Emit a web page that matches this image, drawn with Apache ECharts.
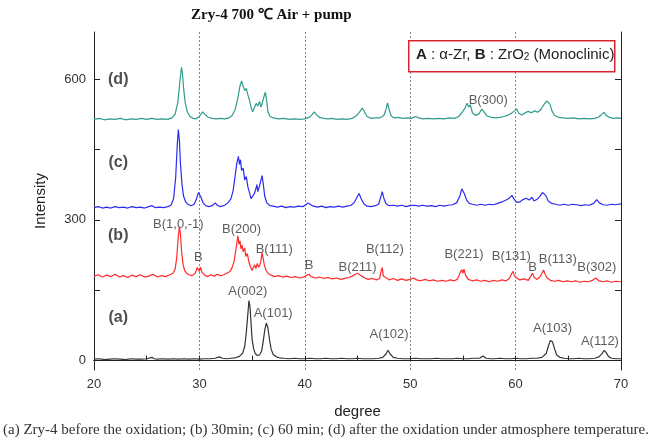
<!DOCTYPE html>
<html>
<head>
<meta charset="utf-8">
<script src="https://cdn.jsdelivr.net/npm/echarts@6/dist/echarts.min.js"></script>
<style>html,body{margin:0;padding:0;background:#fff;}#c{width:652px;height:441px;}</style>
</head>
<body>
<div id="c"></div>
<script>
// ---- data ----
const xTicks = [20, 30, 40, 50, 60, 70];
const yLabelValues = [0, 300, 600];
const yTickValues = [0, 150, 300, 450, 600];

const curveA = [[20,3],[20.5,4],[21,2],[21.5,3],[22,4],[22.5,3],[23,2],[23.5,4],[24,3],[24.5,3],[25,4],[25.5,7],[25.7,4],[26,3],[26.5,4],[27,3],[27.5,4],[28,3],[28.5,4],[29,3],[29.5,4],[30,3],[30.5,4],[31,4],[31.5,5],[31.9,8],[32.2,5],[32.6,4],[33,5],[33.4,6],[33.8,9],[34.1,16],[34.3,30],[34.45,60],[34.6,100],[34.7,128],[34.8,115],[34.9,80],[35.0,45],[35.15,25],[35.3,15],[35.5,11],[35.7,12],[35.9,20],[36.05,40],[36.2,65],[36.35,80],[36.5,70],[36.65,45],[36.8,25],[37.0,13],[37.3,8],[37.6,6],[38,5],[38.5,4],[39,5],[39.5,4],[40,4],[40.5,5],[41,4],[41.5,4],[42,5],[42.5,4],[43,4],[43.5,5],[44,4],[44.5,4],[45,5],[45.5,4],[46,4],[46.5,4],[47,5],[47.4,7],[47.7,14],[47.9,22],[48.1,14],[48.4,7],[48.8,5],[49.3,4],[50,4],[50.5,5],[51,4],[51.5,4],[52,4],[52.5,5],[53,4],[53.5,4],[54,4],[54.5,5],[55,4],[55.5,4],[56,5],[56.6,5],[56.9,10],[57.2,5],[57.6,4],[58,4],[58.5,5],[59,4],[59.5,4],[60,5],[60.5,4],[61,4],[61.5,5],[62,5],[62.5,7],[62.9,15],[63.1,30],[63.3,43],[63.5,40],[63.7,25],[63.9,12],[64.2,7],[64.6,5],[65,4],[65.5,4],[66,5],[66.5,4],[67,4],[67.5,5],[67.9,8],[68.2,15],[68.4,22],[68.6,17],[68.8,9],[69.1,5],[69.5,4],[70,4]];

const curveB = [[20,180],[20.4,183],[20.8,178],[21.2,182],[21.6,179],[22,184],[22.4,178],[22.8,181],[23.2,177],[23.6,182],[24,179],[24.4,183],[24.8,178],[25.2,180],[25.6,184],[26,178],[26.4,181],[26.8,179],[27.2,183],[27.5,186],[27.7,195],[27.85,220],[28.0,265],[28.1,285],[28.2,270],[28.3,235],[28.45,205],[28.6,192],[28.8,186],[29.0,183],[29.3,181],[29.6,186],[29.8,198],[29.9,201],[30.0,190],[30.1,199],[30.25,188],[30.5,182],[30.8,179],[31.1,183],[31.4,180],[31.7,184],[32,181],[32.3,183],[32.6,186],[32.9,190],[33.1,198],[33.3,212],[33.45,235],[33.55,250],[33.65,266],[33.75,248],[33.85,255],[33.95,238],[34.05,246],[34.15,232],[34.3,240],[34.4,222],[34.55,228],[34.7,210],[34.85,200],[35.0,192],[35.1,198],[35.25,204],[35.35,196],[35.5,207],[35.6,199],[35.75,204],[35.85,215],[35.95,230],[36.05,218],[36.15,205],[36.3,193],[36.5,186],[36.8,182],[37.1,179],[37.5,181],[37.9,178],[38.3,180],[38.7,177],[39.1,179],[39.5,176],[39.9,178],[40.2,182],[40.4,184],[40.6,179],[41,176],[41.4,178],[41.8,175],[42.2,177],[42.6,174],[43,176],[43.4,173],[43.8,175],[44.2,177],[44.5,180],[44.8,184],[45.0,186],[45.2,183],[45.4,180],[45.7,176],[46,173],[46.4,175],[46.8,172],[47.1,175],[47.25,192],[47.35,198],[47.45,180],[47.6,176],[48,172],[48.4,175],[48.8,171],[49.2,174],[49.6,171],[50,173],[50.3,176],[50.6,172],[51,170],[51.4,173],[51.8,170],[52.2,172],[52.6,169],[53,171],[53.4,169],[53.8,172],[54.2,170],[54.5,174],[54.75,188],[54.9,194],[55.0,186],[55.1,195],[55.25,182],[55.5,173],[55.9,170],[56.3,172],[56.7,169],[57.1,171],[57.5,168],[57.9,171],[58.3,169],[58.7,172],[59.1,170],[59.4,175],[59.6,184],[59.75,190],[59.9,180],[60.1,176],[60.4,172],[60.8,174],[61.2,171],[61.45,180],[61.6,186],[61.75,178],[62.0,173],[62.3,178],[62.5,186],[62.65,193],[62.8,184],[63.0,176],[63.3,171],[63.7,169],[64.1,171],[64.5,168],[64.9,170],[65.3,168],[65.7,170],[66.1,167],[66.5,169],[66.9,168],[67.3,171],[67.6,176],[67.9,170],[68.3,168],[68.7,170],[69.1,167],[69.5,169],[70,168]];

const curveC = [[20,326],[20.4,328],[20.8,325],[21.2,327],[21.6,325],[22,328],[22.4,326],[22.8,327],[23.2,325],[23.6,328],[24,326],[24.4,327],[24.8,325],[25.2,328],[25.5,330],[25.8,326],[26.2,327],[26.6,326],[27,328],[27.3,331],[27.55,345],[27.75,390],[27.9,460],[28.0,492],[28.1,470],[28.2,420],[28.35,375],[28.5,350],[28.7,338],[28.9,333],[29.2,330],[29.5,333],[29.7,343],[29.9,358],[30.0,360],[30.15,348],[30.35,336],[30.6,330],[30.9,328],[31.2,330],[31.5,336],[31.7,331],[32,328],[32.4,331],[32.7,336],[33,345],[33.2,362],[33.4,395],[33.55,420],[33.7,435],[33.8,418],[33.9,428],[34.0,405],[34.15,410],[34.3,385],[34.45,392],[34.6,370],[34.75,358],[34.9,345],[35.05,343],[35.2,355],[35.35,365],[35.45,375],[35.55,360],[35.7,372],[35.85,385],[35.95,394],[36.05,378],[36.2,350],[36.4,336],[36.7,330],[37.0,329],[37.4,327],[37.8,329],[38.2,326],[38.6,328],[39,327],[39.4,329],[39.8,328],[40.1,332],[40.3,336],[40.5,333],[40.8,329],[41.2,327],[41.6,329],[42,326],[42.4,328],[42.8,327],[43.2,329],[43.6,327],[44,329],[44.4,331],[44.7,337],[44.95,348],[45.15,356],[45.35,345],[45.6,334],[45.9,329],[46.3,328],[46.7,330],[47.0,333],[47.2,348],[47.35,360],[47.5,346],[47.7,334],[48,330],[48.4,331],[48.8,329],[49.2,331],[49.6,328],[50,330],[50.4,331],[50.8,329],[51.2,331],[51.6,329],[52,330],[52.4,328],[52.8,331],[53.2,329],[53.6,331],[54,332],[54.4,336],[54.7,350],[54.9,366],[55.0,368],[55.15,355],[55.35,342],[55.6,335],[55.9,333],[56.3,331],[56.7,333],[57.1,331],[57.5,333],[57.9,332],[58.3,335],[58.7,338],[59.1,342],[59.4,346],[59.65,352],[59.85,344],[60.1,337],[60.4,338],[60.7,343],[61.0,346],[61.3,342],[61.55,348],[61.75,340],[62.0,343],[62.3,350],[62.55,358],[62.7,360],[62.85,352],[63.1,340],[63.4,335],[63.8,333],[64.2,331],[64.6,333],[65,331],[65.4,333],[65.8,332],[66.2,330],[66.6,332],[67,331],[67.4,335],[67.7,343],[67.95,336],[68.3,332],[68.7,331],[69.1,333],[69.5,332],[70,334]];

const curveD = [[20,514],[20.5,516],[21,513],[21.5,515],[22,514],[22.5,516],[23,513],[23.5,515],[24,514],[24.5,516],[25,514],[25.5,516],[26,514],[26.5,515],[27,514],[27.4,517],[27.7,525],[27.95,550],[28.15,595],[28.3,625],[28.4,610],[28.5,580],[28.65,550],[28.85,530],[29.1,520],[29.4,516],[29.7,515],[30.0,520],[30.3,530],[30.5,525],[30.8,519],[31.2,516],[31.6,515],[32,516],[32.4,515],[32.8,517],[33.1,522],[33.4,535],[33.65,560],[33.85,585],[34.0,596],[34.15,585],[34.3,575],[34.45,580],[34.6,566],[34.75,555],[34.9,540],[35.05,530],[35.2,538],[35.4,548],[35.55,542],[35.7,552],[35.85,540],[35.95,548],[36.1,560],[36.25,572],[36.35,560],[36.5,530],[36.7,520],[37,517],[37.5,515],[38,516],[38.5,514],[39,515],[39.5,514],[40,515],[40.4,518],[40.7,524],[40.9,530],[41.1,524],[41.4,518],[41.8,516],[42.2,515],[42.6,516],[43,514],[43.5,515],[44,514],[44.5,516],[44.9,522],[45.2,530],[45.45,538],[45.65,530],[45.9,520],[46.3,516],[46.7,517],[47.1,517],[47.5,522],[47.7,535],[47.85,549],[48.0,535],[48.2,521],[48.5,517],[48.9,518],[49.3,516],[49.7,517],[50.1,516],[50.5,520],[50.8,517],[51.2,515],[51.7,516],[52.2,515],[52.7,516],[53.2,515],[53.7,517],[54.2,516],[54.6,520],[54.9,528],[55.2,538],[55.4,548],[55.55,540],[55.7,545],[55.9,528],[56.2,522],[56.5,525],[56.8,536],[57.0,530],[57.3,521],[57.7,518],[58.1,517],[58.5,518],[58.9,520],[59.3,523],[59.6,527],[59.9,532],[60.1,536],[60.3,527],[60.6,523],[60.9,528],[61.2,531],[61.5,528],[61.8,532],[62.1,529],[62.4,535],[62.7,546],[62.95,553],[63.1,555],[63.25,547],[63.45,532],[63.7,522],[64.1,518],[64.5,517],[65,516],[65.5,517],[66,515],[66.5,516],[67,515],[67.5,516],[67.9,519],[68.2,525],[68.4,529],[68.6,522],[68.9,518],[69.3,516],[69.7,517],[70,516]];

// curve tags: [x, y, text]
const curveTags = [[22.3, 598, '(d)'], [22.3, 421, '(c)'], [22.3, 266, '(b)'], [22.3, 91, '(a)']];
// peak annotations: [x, y, text]
const peakTags = [
  [57.4, 555, 'B(300)'],
  [28.0, 291, 'B(1,0,-1)'], [29.9, 219, 'B'], [34.0, 279, 'B(200)'], [37.1, 236, 'B(111)'],
  [40.4, 202, 'B'], [45.0, 198, 'B(211)'], [47.6, 236, 'B(112)'], [55.1, 226, 'B(221)'],
  [59.6, 221, 'B(131)'], [61.6, 198, 'B'], [64.0, 215, 'B(113)'], [67.7, 198, 'B(302)'],
  [34.6, 147, 'A(002)'], [37.0, 100, 'A(101)'], [48.0, 55, 'A(102)'], [63.5, 68, 'A(103)'], [68.0, 40, 'A(112)']
];

// ---- chart ----
const chart = echarts.init(document.getElementById('c'), null, {renderer: 'canvas'});
const sans = 'Liberation Sans';
function lineSeries(data, color) {
  return {type: 'line', data: data, showSymbol: false, symbol: 'none', animation: false,
    lineStyle: {color: color, width: 1.2}, z: 3};
}
function tagSeries(tags, style) {
  return {type: 'scatter', symbolSize: 0, animation: false, silent: true, z: 5,
    data: tags.map(t => ({value: [t[0], t[1]], label: {formatter: t[2]}})),
    label: Object.assign({show: true, position: 'inside'}, style)};
}
chart.setOption({
  animation: false,
  title: {text: 'Zry-4 700 ℃ Air + pump', left: 186, top: 3,
    textStyle: {fontFamily: 'Liberation Serif', fontWeight: 'bold', fontSize: 15, color: '#111'}},
  grid: {left: 94, right: 31, top: 32, bottom: 71},
  xAxis: [{
    type: 'value', min: 20, max: 70, interval: 10,
    name: 'degree', nameLocation: 'middle', nameGap: 34,
    nameTextStyle: {fontFamily: sans, fontSize: 15, color: '#222'},
    axisLine: {lineStyle: {color: '#222', width: 1}},
    axisTick: {show: true, inside: true, length: 5, lineStyle: {color: '#222'}},
    minorTick: {show: true, splitNumber: 2, length: 5, lineStyle: {color: '#222'}},
    axisLabel: {fontFamily: sans, fontSize: 13, color: '#333', margin: 8},
    splitLine: {show: true, lineStyle: {color: '#888', type: [2, 2], width: 1}}
  }, {
    type: 'value', min: 20, max: 70, position: 'top',
    axisLine: {show: true, lineStyle: {color: '#222', width: 1}},
    axisTick: {show: false}, axisLabel: {show: false}, splitLine: {show: false}
  }],
  yAxis: [{
    type: 'value', min: -20, max: 700,
    name: 'Intensity', nameLocation: 'middle', nameGap: 46,
    nameTextStyle: {fontFamily: sans, fontSize: 15, color: '#222'},
    axisLine: {show: true, lineStyle: {color: '#222', width: 1}},
    axisTick: {show: true, inside: true, length: 6, customValues: yTickValues, lineStyle: {color: '#222'}},
    axisLabel: {fontFamily: sans, fontSize: 13, color: '#333', customValues: yLabelValues, margin: 8},
    splitLine: {show: false}
  }, {
    type: 'value', min: -20, max: 700, position: 'right',
    axisLine: {show: true, lineStyle: {color: '#222', width: 1}},
    axisTick: {show: true, inside: true, length: 6, customValues: yTickValues, lineStyle: {color: '#222'}},
    axisLabel: {show: false}, splitLine: {show: false}
  }],
  series: [
    lineSeries(curveA, '#333333'),
    lineSeries(curveB, '#ff2a2a'),
    lineSeries(curveC, '#2b2bf0'),
    lineSeries(curveD, '#2f9c8c'),
    tagSeries(curveTags, {fontFamily: sans, fontSize: 16, fontWeight: 'bold', color: '#222'}),
    tagSeries(peakTags, {fontFamily: sans, fontSize: 13, color: '#333'})
  ],
  graphic: [
    {type: 'rect', left: 408, top: 40, shape: {width: 206, height: 31},
      style: {fill: '#fff', stroke: '#d9262e', lineWidth: 1.5}, z: 10},
    {type: 'text', left: 416, top: 47, z: 11,
      style: {text: '{b|A} : α-Zr, {b|B} : ZrO{s|2} (Monoclinic)',
        font: '15px Liberation Sans', fill: '#222',
        rich: {b: {fontWeight: 'bold', fontSize: 15, fontFamily: sans, fill: '#222'},
               s: {fontSize: 10, fontFamily: sans, fill: '#222', padding: [6, 0, 0, 0]}}}},
    {type: 'text', left: 3, top: 423, z: 11,
      style: {text: '(a) Zry-4 before the oxidation; (b) 30min; (c) 60 min; (d) after the oxidation under atmosphere temperature.',
        font: '15px Liberation Serif', fill: '#333'}}
  ]
});
</script>
</body>
</html>
